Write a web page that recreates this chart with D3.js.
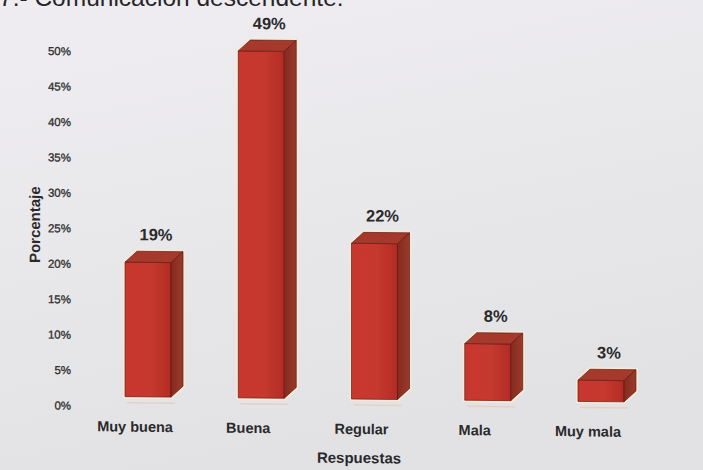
<!DOCTYPE html>
<html>
<head>
<meta charset="utf-8">
<script src="https://cdn.jsdelivr.net/npm/d3@7"></script>
<style>
  html, body { margin: 0; padding: 0; background: #e8e7ea; }
  svg { display: block; }
</style>
</head>
<body>
<svg id="chart" width="703" height="470"></svg>
<script>
// Respuestas de la pregunta 7 (porcentaje)
const categories = ["Muy buena", "Buena", "Regular", "Mala", "Muy mala"];
const values = [19, 49, 22, 8, 3];
const tickValues = [0, 5, 10, 15, 20, 25, 30, 35, 40, 45, 50];

const W = 703, H = 470;
const svg = d3.select("#chart");

// background
const defs = svg.append("defs");
const bg = defs.append("linearGradient").attr("id", "bg")
  .attr("x1", 0).attr("y1", 0).attr("x2", 0.3).attr("y2", 1);
bg.append("stop").attr("offset", 0).attr("stop-color", "#efedf1");
bg.append("stop").attr("offset", 1).attr("stop-color", "#e2e2e4");
svg.append("rect").attr("width", W).attr("height", H).attr("fill", "url(#bg)");

const front = defs.append("linearGradient").attr("id", "front")
  .attr("x1", 0).attr("y1", 0).attr("x2", 1).attr("y2", 0);
front.append("stop").attr("offset", 0).attr("stop-color", "#c8372f");
front.append("stop").attr("offset", 0.55).attr("stop-color", "#c6392f");
front.append("stop").attr("offset", 1).attr("stop-color", "#b22c24");

const side = defs.append("linearGradient").attr("id", "side")
  .attr("x1", 0).attr("y1", 0).attr("x2", 1).attr("y2", 0);
side.append("stop").attr("offset", 0).attr("stop-color", "#862b1f");
side.append("stop").attr("offset", 1).attr("stop-color", "#9a3a2b");

// heading (partly above the page edge)
svg.append("text")
  .attr("x", -1).attr("y", 6)
  .attr("font-family", "Liberation Sans, Arial, sans-serif")
  .attr("font-size", 24.5)
  .attr("fill", "#262628")
  .text("7.- Comunicación descendente:");

// the printed chart sits slightly tilted
const tilt = 0.6;
const g = svg.append("g")
  .attr("transform", `translate(0,${-351 * Math.tan(tilt * Math.PI / 180)}) skewY(${tilt})`);

// scales
const x = d3.scaleBand().domain(categories)
  .range([91.4, 657.6]).paddingInner(0.594).paddingOuter(0.297);
const yAxisScale = d3.scaleLinear().domain([0, 50]).range([408, 53.7]);
const yBar = d3.scaleLinear().domain([0, 50]).range([399, 45]);
const dx = 12, dy = 11;

const font = "Liberation Sans, Arial, sans-serif";

// y axis labels (no axis line)
const yAxis = d3.axisLeft(yAxisScale).tickValues(tickValues)
  .tickFormat(d => d + "%").tickSize(0).tickPadding(0);
const ya = g.append("g").attr("transform", "translate(71,0)").call(yAxis);
ya.select(".domain").remove();
ya.selectAll("text")
  .attr("font-family", font).attr("font-size", 11.5)
  .attr("fill", "#2c2c2e").attr("stroke", "#2c2c2e").attr("stroke-width", 0.3)
  .attr("dy", "0.35em");

// bars
const bars = g.append("g").selectAll("g.bar").data(values).join("g").attr("class", "bar");

bars.each(function (v, i) {
  const sel = d3.select(this);
  const x0 = x(categories[i]), x1 = x0 + x.bandwidth();
  const yt = yBar(v), yb = yBar(0);
  const pts = a => a.map(p => p.join(",")).join(" ");

  // light halo around the solid
  sel.append("polygon")
    .attr("points", pts([[x0, yb], [x0, yt], [x0 + dx, yt - dy], [x1 + dx, yt - dy], [x1 + dx, yb - dy], [x1, yb]]))
    .attr("fill", "none").attr("stroke", "#f6ecd6").attr("stroke-width", 4)
    .attr("stroke-linejoin", "round").attr("opacity", 0.9);
  // faint reflection under the base
  sel.append("line")
    .attr("x1", x0 + 2).attr("x2", x1 + 4).attr("y1", yb + 6).attr("y2", yb + 6)
    .attr("stroke", "#e9c9b8").attr("stroke-width", 1.5).attr("opacity", 0.7);

  sel.append("rect")
    .attr("x", x0).attr("y", yt).attr("width", x1 - x0).attr("height", yb - yt)
    .attr("fill", "url(#front)").attr("stroke", "#6a1a12").attr("stroke-width", 0.7);
  sel.append("polygon")
    .attr("points", pts([[x0, yt], [x0 + dx, yt - dy], [x1 + dx, yt - dy], [x1, yt]]))
    .attr("fill", "#a5392b").attr("stroke", "#6a1a12").attr("stroke-width", 0.7);
  sel.append("polygon")
    .attr("points", pts([[x1, yt], [x1 + dx, yt - dy], [x1 + dx, yb - dy], [x1, yb]]))
    .attr("fill", "url(#side)").attr("stroke", "#5e160f").attr("stroke-width", 0.7);

  // value label
  sel.append("text")
    .attr("x", x0 + x.bandwidth() / 2 + dx / 2 + 2)
    .attr("y", yt - dy - 11)
    .attr("text-anchor", "middle")
    .attr("font-family", font).attr("font-weight", "bold").attr("font-size", 16.5)
    .attr("fill", "#2a2a2c")
    .text(v + "%");
});

// category labels
g.append("g").selectAll("text").data(categories).join("text")
  .attr("x", d => x(d) + x.bandwidth() / 2 - 13)
  .attr("y", 434)
  .attr("text-anchor", "middle")
  .attr("font-family", font).attr("font-weight", "bold").attr("font-size", 14.5)
  .attr("fill", "#2a2a2c")
  .text(d => d);

// axis titles
g.append("text")
  .attr("x", 359).attr("y", 463)
  .attr("text-anchor", "middle")
  .attr("font-family", font).attr("font-weight", "bold").attr("font-size", 15)
  .attr("fill", "#2a2a2c")
  .text("Respuestas");

g.append("text")
  .attr("transform", "translate(40,228) rotate(-90)")
  .attr("text-anchor", "middle")
  .attr("font-family", font).attr("font-weight", "bold").attr("font-size", 15)
  .attr("fill", "#2a2a2c")
  .text("Porcentaje");
</script>
</body>
</html>
